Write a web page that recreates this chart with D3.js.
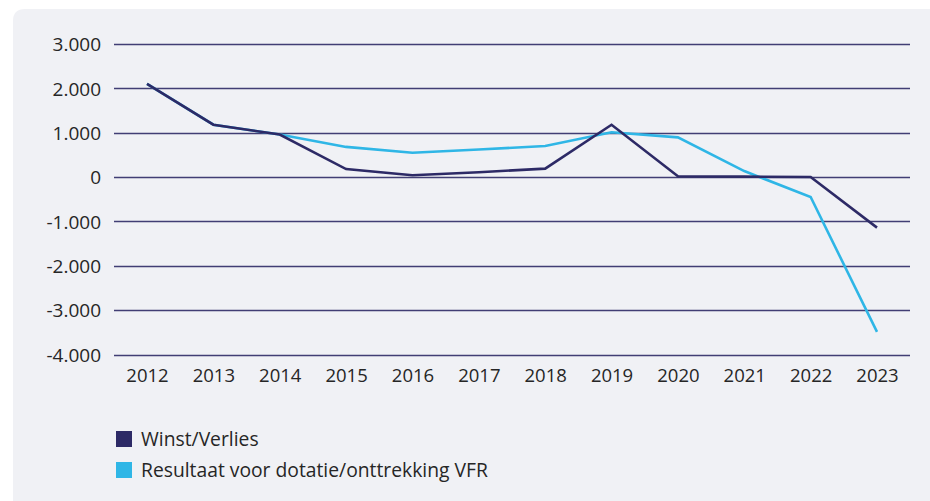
<!DOCTYPE html>
<html><head><meta charset="utf-8">
<script src="https://cdn.jsdelivr.net/npm/d3@7"></script>
<style>
html,body{margin:0;padding:0;background:#fff;}
svg{display:block;}
</style></head>
<body>
<svg id="chart" width="930" height="501"></svg>
<script>
const years = ["2012","2013","2014","2015","2016","2017","2018","2019","2020","2021","2022","2023"];
const winstVerlies = [2100, 1180, 960, 180, 40, 110, 190, 1180, 20, 10, 0, -1140];
const resultaatVFR = [2100, 1180, 960, 680, 550, 620, 700, 1010, 895, 135, -450, -3490];
const yTicks = [3000, 2000, 1000, 0, -1000, -2000, -3000, -4000];
const seriesNames = ["Winst/Verlies", "Resultaat voor dotatie/onttrekking VFR"];
const seriesColors = ["#2d2a66", "#2fb6e6"];

const svg = d3.select("#chart");
const font = "'Open Sans', sans-serif";

// background panel
svg.append("path")
  .attr("d", "M13,21 Q13,9 25,9 L930,9 L930,501 L13,501 Z")
  .attr("fill", "#f0f1f5");

const x = d3.scalePoint().domain(years).range([147, 877]);
const y = d3.scaleLinear().domain([-4000, 3000]).range([354.5, 44]);

const fmt = v => d3.format(",")(v).replace(/,/g, ".").replace("−", "-");

// gridlines
const g = svg.append("g");
g.selectAll("line.grid").data(yTicks).enter().append("line")
  .attr("x1", 114).attr("x2", 910)
  .attr("y1", d => Math.round(y(d)) + 0.5).attr("y2", d => Math.round(y(d)) + 0.5)
  .attr("stroke", "#2d2a66").attr("stroke-width", 1.6).attr("stroke-opacity", 0.9);

// y labels
const yAxis = d3.axisLeft(y).tickValues(yTicks).tickSize(0).tickPadding(0).tickFormat(fmt);
const ya = svg.append("g").attr("transform", "translate(101,0)").call(yAxis);
ya.select(".domain").remove();
ya.selectAll("text").attr("font-family", font).attr("font-size", 19).attr("fill", "#262626").attr("dy", "0.36em");

// x labels
const xAxis = d3.axisBottom(x).tickSize(0).tickPadding(0);
const xa = svg.append("g").attr("transform", "translate(0,369)").call(xAxis);
xa.select(".domain").remove();
xa.selectAll("text").attr("font-family", font).attr("font-size", 18.5).attr("fill", "#262626").attr("dy", "0.71em");

const line = d3.line().x((d, i) => x(years[i])).y(d => y(d));

svg.append("path").datum(resultaatVFR).attr("d", line)
  .attr("fill", "none").attr("stroke", seriesColors[1]).attr("stroke-width", 2.6).attr("stroke-linejoin", "miter");
svg.append("path").datum(winstVerlies).attr("d", line)
  .attr("fill", "none").attr("stroke", seriesColors[0]).attr("stroke-width", 2.6).attr("stroke-linejoin", "miter");

// legend
const leg = svg.append("g");
seriesNames.forEach((n, i) => {
  const yy = 431 + i * 31;
  leg.append("rect").attr("x", 116).attr("y", yy).attr("width", 16).attr("height", 16).attr("fill", seriesColors[i]);
  leg.append("text").attr("x", 141).attr("y", yy + 15).attr("font-family", font).attr("font-size", 19.3)
    .attr("fill", "#262626").text(n);
});
</script>
</body></html>
